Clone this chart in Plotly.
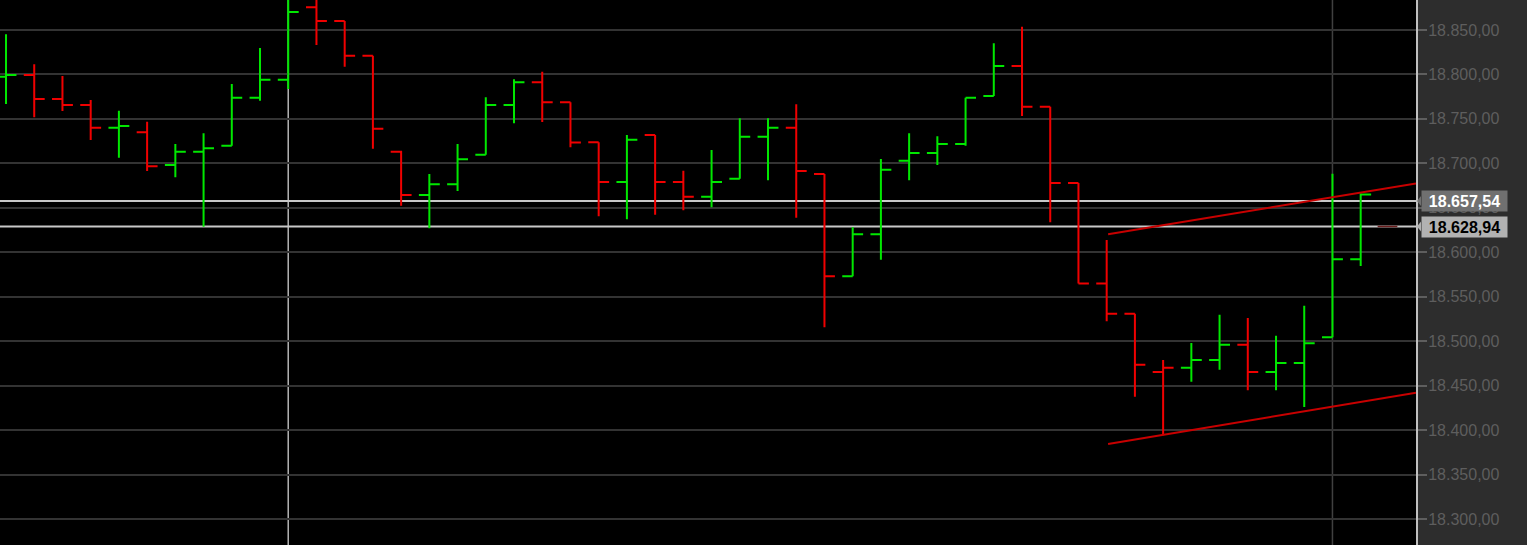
import plotly.graph_objects as go

# ---- data ----
bar_idx = list(range(49))
opens = [18797.5, 18799.4, 18772.4, 18765.6, 18740.1, 18734.9, 18698.1, 18713.1, 18719.8, 18773.8,
         18794.1, 18875.5, 18860.1, 18821.1, 18713.1, 18664.4, 18676.4, 18709.7, 18765.6, 18791.2,
         18768.7, 18723.7, 18679.0, 18731.9, 18679.0, 18662.5, 18682.7, 18730.0, 18740.1, 18688.0,
         18572.9, 18620.2, 18703.0, 18711.6, 18721.8, 18775.8, 18809.5, 18763.7, 18677.9, 18564.8,
         18530.9, 18465.3, 18470.1, 18478.8, 18496.0, 18465.3, 18475.4, 18504.3, 18592.1]
highs = [18845.2, 18811.4, 18798.3, 18771.3, 18759.2, 18746.8, 18721.8, 18733.8, 18789.3, 18829.8,
         18895.0, 18890.0, 18860.1, 18821.1, 18714.2, 18688.0, 18721.8, 18774.3, 18794.5, 18803.1,
         18768.7, 18723.7, 18731.9, 18731.9, 18691.7, 18715.0, 18750.7, 18750.7, 18766.4, 18688.0,
         18628.1, 18704.9, 18733.8, 18730.4, 18773.8, 18835.0, 18853.7, 18763.7, 18677.9, 18613.8,
         18530.9, 18478.8, 18497.9, 18529.7, 18526.0, 18506.1, 18539.9, 18688.4, 18666.3]
lows = [18766.8, 18751.8, 18758.9, 18726.3, 18706.4, 18691.4, 18684.3, 18628.7, 18719.8, 18770.5,
        18783.6, 18833.1, 18808.7, 18716.5, 18652.4, 18626.9, 18668.9, 18709.7, 18745.0, 18746.5,
        18718.2, 18640.4, 18637.1, 18642.2, 18647.2, 18650.6, 18682.7, 18680.9, 18638.9, 18515.6,
        18572.9, 18591.6, 18680.9, 18698.1, 18719.8, 18775.8, 18753.3, 18633.7, 18564.8, 18522.3,
        18437.5, 18394.1, 18454.4, 18467.9, 18444.7, 18444.7, 18425.9, 18504.3, 18584.5]
closes = [18799.4, 18772.4, 18765.6, 18740.1, 18742.0, 18696.7, 18713.1, 18716.9, 18773.8, 18794.1,
          18870.2, 18860.1, 18821.1, 18739.0, 18664.4, 18676.4, 18704.6, 18765.6, 18791.2, 18768.7,
          18723.4, 18679.0, 18726.6, 18679.0, 18662.5, 18679.0, 18730.0, 18740.1, 18691.4, 18572.9,
          18620.2, 18692.8, 18711.6, 18721.8, 18773.8, 18809.5, 18763.7, 18677.9, 18564.8, 18530.9,
          18473.5, 18470.1, 18478.8, 18496.0, 18465.3, 18475.4, 18497.6, 18592.1, 18665.0]

price_lines = [18657.54, 18628.94]
price_labels = ["18.657,54", "18.628,94"]

upper_trend_x = [39.05, 49.96]
upper_trend_y = [18620.2, 18677.4]
lower_trend_x = [39.05, 49.96]
lower_trend_y = [18384.3, 18442.0]

cursor_bars = [10, 47]

y_ticks = [18300, 18350, 18400, 18450, 18500, 18550, 18600, 18650, 18700, 18750, 18800, 18850]
y_tick_text = ["18.300,00", "18.350,00", "18.400,00", "18.450,00", "18.500,00", "18.550,00",
               "18.600,00", "18.650,00", "18.700,00", "18.750,00", "18.800,00", "18.850,00"]

GREEN = "#00e800"
RED = "#f00000"

# colour by close versus previous close
up_mask = [True] + [closes[i] >= closes[i - 1] for i in range(1, len(closes))]


def subset(lst, flag):
    return [v for v, m in zip(lst, up_mask) if m == flag]


fig = go.Figure()
for flag, col in [(True, GREEN), (False, RED)]:
    fig.add_trace(go.Ohlc(
        x=subset(bar_idx, flag), open=subset(opens, flag), high=subset(highs, flag),
        low=subset(lows, flag), close=subset(closes, flag),
        increasing=dict(line=dict(color=col, width=2)),
        decreasing=dict(line=dict(color=col, width=2)),
        tickwidth=0.37, showlegend=False, hoverinfo="skip"))

for xs, ys in [(upper_trend_x, upper_trend_y), (lower_trend_x, lower_trend_y)]:
    fig.add_trace(go.Scatter(x=xs, y=ys, mode="lines", line=dict(color="#c80000", width=2),
                             showlegend=False, hoverinfo="skip"))

# faint marker at next bar
fig.add_trace(go.Scatter(x=[48.6, 49.3], y=[price_lines[1], price_lines[1]], mode="lines",
                         line=dict(color="#6a1c1c", width=1.5), showlegend=False, hoverinfo="skip"))

shapes = []
for i, b in enumerate(cursor_bars):
    shapes.append(dict(type="line", xref="x", yref="paper", x0=b, x1=b, y0=0, y1=1,
                       line=dict(color="#b4b4b4" if i == 0 else "#404040", width=1.5), layer="below"))
for v in price_lines:
    shapes.append(dict(type="line", xref="paper", yref="y", x0=0, x1=1, y0=v, y1=v,
                       line=dict(color="#c8c8c8", width=2), layer="below"))

annotations = []
box_styles = [("#707070", "#ffffff"), ("#b2b2b2", "#000000")]
for v, t, (bg, fg) in zip(price_lines, price_labels, box_styles):
    annotations.append(dict(xref="paper", yref="y", x=1, y=v, xanchor="left", yanchor="middle",
                            xshift=5, text="<b>%s</b>" % t, showarrow=False, bgcolor=bg,
                            width=85, height=20, borderpad=0, align="center",
                            font=dict(family="Liberation Sans, Arial", size=16, color=fg)))
    shapes.append(dict(type="path", xref="paper", yref="y", xsizemode="pixel", ysizemode="pixel",
                       xanchor=1, yanchor=v, path="M 1 0 L 5 -5 L 5 5 Z",
                       fillcolor=bg, line=dict(width=0), layer="above"))

fig.update_layout(
    width=1527, height=545,
    margin=dict(l=0, r=111, t=0, b=0),
    paper_bgcolor="#2d2d2d", plot_bgcolor="#000000",
    shapes=shapes, annotations=annotations,
    xaxis=dict(range=[-0.213, 49.96], showgrid=False, zeroline=False, showticklabels=False,
               ticks="", rangeslider=dict(visible=False), fixedrange=True),
    yaxis=dict(range=[18270.7, 18883.7], side="right", tickvals=y_ticks, ticktext=y_tick_text,
               showgrid=True, gridcolor="#333333", gridwidth=2, zeroline=False,
               showline=True, linecolor="#c0c0c0", linewidth=2,
               ticks="outside", ticklen=9, tickcolor="#5e5e5e", tickwidth=2,
               tickfont=dict(family="Liberation Sans, Arial", size=16, color="#5e5e5e"),
               ticklabelstandoff=-2, fixedrange=True),
)

fig.write_html("out.html", config={"displayModeBar": False},
               post_script="document.body.style.margin='0';document.body.style.background='#2d2d2d';")
